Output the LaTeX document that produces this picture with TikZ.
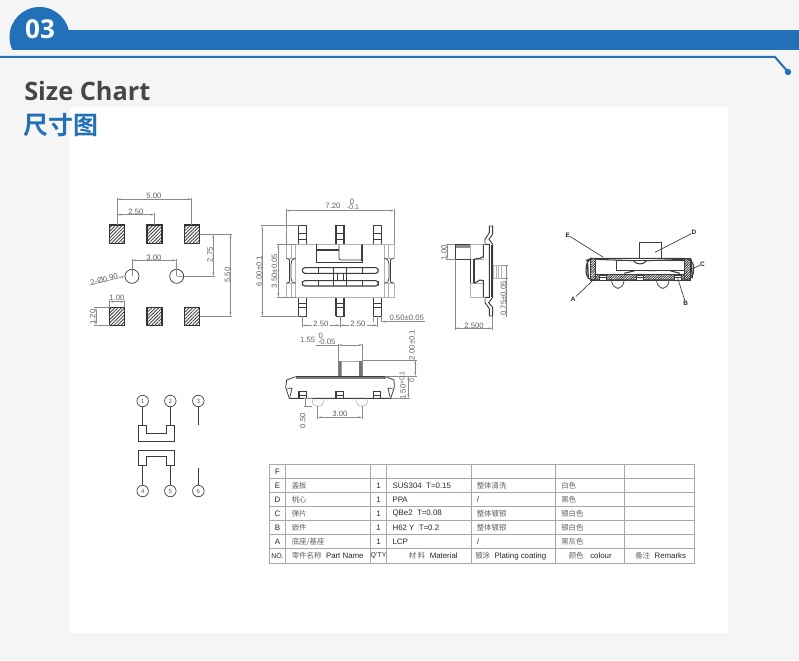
\documentclass[tikz,border=0pt]{standalone}
\usepackage{fontspec}
\setmainfont{Liberation Sans}
\newfontfamily\cjk{Noto Sans CJK SC}
\newfontfamily\cjkb{Noto Sans CJK SC Bold}
\newfontfamily\headf{Open Sans}[BoldFont={Open Sans Bold}]
\usetikzlibrary{arrows.meta,patterns.meta,calc}
\definecolor{brand}{HTML}{2170B8}
\definecolor{pagebg}{HTML}{F5F5F5}
\definecolor{dimc}{HTML}{8A8A8A}
\definecolor{inkc}{HTML}{3C3C3C}
\definecolor{gridc}{HTML}{A8A8A8}
\tikzset{
  dimline/.style={draw=dimc,line width=0.4pt,{Stealth[length=3pt,width=1.4pt]}-{Stealth[length=3pt,width=1.4pt]}},
  extline/.style={draw=dimc,line width=0.4pt},
  ink/.style={draw=inkc,line width=0.55pt},
  heavy/.style={draw=inkc,line width=1pt},
  soft/.style={draw=gray!60,line width=0.45pt},
  dimtext/.style={text=black!62,font=\fontsize{5.8}{6.5}\selectfont,inner sep=0pt},
  hatch/.style={draw=black!80,line width=0.9pt,pattern={Lines[angle=45,distance=1.8pt,line width=0.65pt]},pattern color=black!75},
  hatchb/.style={draw=inkc,line width=0.5pt,pattern={Lines[angle=45,distance=1.3pt,line width=0.6pt]},pattern color=black!80},
  grid/.style={draw=gridc,line width=0.55pt},
  cellw/.style={anchor=west,inner sep=0pt,text=black!85,font=\fontsize{5.9}{6.5}\selectfont},
  cellc/.style={anchor=center,inner sep=0pt,text=black!85,font=\fontsize{5.9}{6.5}\selectfont},
  cellz/.style={anchor=west,inner sep=0pt,text=black!62,font=\cjk\fontsize{5.6}{6.5}\selectfont},
  pinnum/.style={circle,draw=inkc,line width=0.5pt,minimum size=11.5*0.75pt,inner sep=0pt,fill=white,text=black!65,font=\fontsize{4.5}{5}\selectfont},
  leadtext/.style={text=black!85,font=\bfseries\fontsize{4.8}{5}\selectfont,inner sep=0pt},
  sideleft/.style={},
  sideright/.style={shift={(680,0)},xscale=-1},
}
\begin{document}
\begin{tikzpicture}[x=0.75pt,y=-0.75pt]
\useasboundingbox (0,0) rectangle (799,660);
\fill[pagebg] (0,0) rectangle (799,660);
\fill[white] (70,107) rectangle (728,633);
% header
\fill[brand] (60,30) rectangle (799,50);
\begin{scope}
\clip (0,0) rectangle (100,50);
\fill[brand] (39.5,37) circle (30);
\end{scope}
\draw[brand,line width=1.5pt] (0,57) -- (775,57) -- (788,72);
\fill[brand] (788,72) circle (3.2);
\node[text=white,font=\headf\bfseries\fontsize{19.5}{20}\selectfont,inner sep=0pt] (num) at (40,29.5) {03};
\node[anchor=base west,text=black!72,font=\headf\bfseries\fontsize{19}{22}\selectfont,inner sep=0pt] (title) at (24,100) {Size Chart};
\node[anchor=west,text=brand,font=\cjkb\fontsize{18.7}{20}\selectfont,inner sep=0pt] (titlecn) at (23.5,125) {尺寸图};

% ---------- footprint
\foreach \x in {109.5,147,184.5}{
  \path[hatch] (\x,225) rectangle ++(15,18.3);
  \path[hatch] (\x,307.3) rectangle ++(15,18);
}
\draw[ink] (132,276.3) circle (7) (176.7,276.3) circle (7);
\draw[soft] (132,276.3) -- (132,269) (176.7,276.3) -- (176.7,269) (176.7,276.3) -- (183,276.3);
\draw[extline] (117,225) -- (117,198) (191.7,225) -- (191.7,198) (154.5,225) -- (154.5,213);
\draw[dimline] (117,199.3) -- (191.7,199.3);
\draw[dimline] (117,214.7) -- (154.5,214.7);
\node[dimtext] (d500) at (154,196) {5.00};
\node[dimtext] (d250) at (136,211.5) {2.50};
\draw[extline] (132,276) -- (132,259) (176.7,276) -- (176.7,259);
\draw[dimline] (132,260.3) -- (176.7,260.3);
\node[dimtext] (d300) at (154,257.5) {3.00};
\draw[extline] (199.7,234) -- (232,234) (183.7,276.3) -- (215,276.3) (199.7,316) -- (232,316);
\draw[dimline] (213.3,234) -- (213.3,276.3);
\draw[dimline] (230.5,234) -- (230.5,316);
\node[dimtext,rotate=90] (d275) at (210,254.5) {2.75};
\node[dimtext,rotate=90] (d550) at (227.5,275) {5.50};
\node[dimtext,rotate=14] (dphi) at (104,279.5) {2-Ø0.90};
\coordinate (phia) at (90,285);
\coordinate (phib) at (125,276.3);
\draw[extline,-{Stealth[length=3pt,width=1.4pt]}] (phia) -- (phib);
\draw[extline] (109.5,307.3) -- (109.5,300) (124.5,307.3) -- (124.5,300);
\draw[dimline] (109.5,301.7) -- (124.5,301.7);
\node[dimtext] (d100) at (117,298) {1.00};
\draw[extline] (94,307.3) -- (109.5,307.3) (94,325.3) -- (109.5,325.3);
\draw[dimline] (96,307.3) -- (96,325.3);
\node[dimtext,rotate=90] (d120) at (92.7,317) {1.20};

% ---------- top view
\draw[extline] (286,244) -- (286,209) (394,244) -- (394,209);
\draw[dimline] (286,210.7) -- (394,210.7);
\node[dimtext] (d720) at (333,205.5) {7.20};
\node[dimtext] (d720a) at (352,201.5) {0};
\node[dimtext,font=\fontsize{5.2}{6}\selectfont] (d720b) at (353,207.5) {-0.1};
\foreach \x in {298.7,336,373.3}{
  \draw[ink,fill=white] (\x,225) rectangle ++(8,19.3);
  \draw[ink,fill=white] (\x,297.3) rectangle ++(8,18.7);
  \draw[ink] (\x,233.5) -- ++(8,0) (\x,239) -- ++(8,0) (\x,303) -- ++(8,0) (\x,307) -- ++(8,0);
  \draw[heavy] (\x,225) -- ++(0,19.3) (\x+8,225) -- ++(0,19.3) (\x,297.3) -- ++(0,18.7) (\x+8,297.3) -- ++(0,18.7);
}
\draw[soft] (295.7,244.3) -- (384.3,244.3) (295.7,297.3) -- (384.3,297.3);
\foreach \tr in {sideleft,sideright}{
\begin{scope}[\tr]
  \draw[soft] (286,244.3) rectangle (295.7,258.5);
  \draw[soft] (286,283) rectangle (295.7,297.3);
  \draw[soft] (291.7,244.3) -- (291.7,258.5) (291.7,283) -- (291.7,297.3);
  \draw[soft] (295.7,244.3) -- (295.7,297.3);
  \draw[ink] (295.7,258.5) .. controls (292,259) and (291,261) .. (291,264) -- (291,278) .. controls (291,281) and (292,283) .. (295.7,283);
  \draw[heavy] (289.7,259.5) -- (289.7,282);
  \draw[ink] (289.7,259.5) -- (286.5,258.5) (289.7,282) -- (286.5,283);
\end{scope}
}
\draw[ink,line width=0.8pt] (316.7,244.3) -- (316.7,262.3) -- (362.7,262.3) -- (362.7,244.3);
\draw[heavy] (361.8,245) -- (361.8,261);
\draw[ink,rounded corners=1.5pt] (339,244.5) -- (339,260) -- (361,260);
\draw[ink,line width=0.8pt] (317,250) -- (339,250);
\draw[ink,line width=0.8pt,rounded corners=2pt] (302.3,267.7) rectangle (378.3,273.3);
\draw[ink,line width=0.8pt,rounded corners=2pt] (302.3,280.7) rectangle (378.3,286);
\foreach \x in {318.3,333.3,346.7,362.3}{
  \draw[heavy] (\x,267.7) -- (\x,273.3) (\x,280.7) -- (\x,286);
}
\draw[ink] (333.3,273.3) -- (333.3,280.7) (346.7,273.3) -- (346.7,280.7);
\draw[ink] (337.5,273.3) rectangle (343.5,280.7);
\draw[extline] (296,244.3) -- (277,244.3) (296,297.3) -- (277,297.3);
\draw[dimline] (278.3,244.3) -- (278.3,297.3);
\node[dimtext,rotate=90] (d350) at (274.5,271) {3.50±0.05};
\draw[extline] (298.7,225) -- (261,225) (298.7,316) -- (261,316);
\draw[dimline] (262.3,226) -- (262.3,316);
\node[dimtext,rotate=90] (d600) at (259.3,271) {6.00±0.1};
\draw[extline] (302.5,316) -- (302.5,327) (340,316) -- (340,327) (377.5,316) -- (377.5,327) (373.3,316) -- (373.3,322) (381.3,316) -- (381.3,322);
\draw[dimline] (302.5,325.3) -- (340,325.3);
\draw[dimline] (340,325.3) -- (377.5,325.3);
\node[fill=white,dimtext,inner xsep=1pt] (d250a) at (321,323.5) {2.50};
\node[fill=white,dimtext,inner xsep=1pt] (d250b) at (358,323.5) {2.50};
\draw[extline,-{Stealth[length=3pt,width=1.4pt]}] (425,321.7) -- (381.3,321.7);
\node[dimtext] (d050) at (406.7,318) {0.50±0.05};

% ---------- side view
\begin{scope}[shift={(430,210)},x=0.25pt,y=-0.25pt]
  \draw[ink,line width=0.7pt] (178,48) -- (188,48) -- (188,72) -- (177,88) -- (188,103) -- (188,262) -- (176,278) -- (188,292) -- (188,318) -- (178,318) -- (178,296) -- (165,278) -- (165,262) -- (178,262) -- (178,103) -- (165,103) -- (165,88) -- (178,68) -- cycle;
  \draw[heavy] (186,105) -- (186,260);
  \draw[soft,fill=white] (75,103) rectangle (120,147);
  \draw[soft,fill=white] (120,103) rectangle (160,147);
  \fill[black!45] (75,103) rectangle (120,114);
  \draw[ink] (75,103) -- (75,147) -- (120,147) (75,103) -- (120,103);
  \draw[soft,fill=white] (120,220) rectangle (160,262);
  \draw[ink] (120,147) -- (120,220) (133,147) -- (133,220);
  \draw[heavy] (122,147) -- (122,220) (131,147) -- (131,220);
  \draw[ink,line width=0.8pt] (160,103) -- (160,140) -- (150,145) -- (133,147);
  \draw[ink,line width=0.8pt] (160,262) -- (160,212) -- (150,210) -- (133,220);
  \draw[soft] (190,165) rectangle (215,205) (200,165) -- (200,205) (206,165) -- (206,205);
\end{scope}
\draw[extline] (455,244.3) -- (446,244.3) (455,259) -- (446,259);
\draw[dimline] (447.3,244.3) -- (447.3,259);
\node[dimtext,rotate=90] (d100b) at (444,252.7) {1.00};
\draw[extline] (455,259) -- (455,330) (492.7,316) -- (492.7,330);
\draw[dimline] (455,328.3) -- (492.7,328.3);
\node[dimtext] (d2500) at (474,325.5) {2.500};
\draw[extline] (501.7,265) -- (508,265) (501.7,278.3) -- (508,278.3) (506.7,265) -- (506.7,317);
\node[dimtext,rotate=90] (d075) at (503.5,298.5) {0.75±0.05};

% ---------- section
\begin{scope}[shift={(555,220)},x=0.25pt,y=-0.25pt]
  \draw[ink,line width=0.7pt] (252,115) -- (252,68) -- (320,68) -- (320,115);
  \draw[ink,line width=0.8pt,rounded corners=4pt] (97,180) -- (92,150) -- (97,120) -- (108,115) -- (395,115) -- (412,120) -- (418,150) -- (408,180) -- cycle;
  \path[hatchb] (105,115) rectangle (122,180);
  \path[hatchb] (388,115) rectangle (405,180);
  \path[hatchb] (122,163) rectangle (388,180);
  \draw[ink,fill=white] (132,165) rectangle (155,180) (245,165) rectangle (265,180) (358,165) rectangle (380,180);
  \draw[ink] (132,172) -- (155,172) (245,172) -- (265,172) (358,172) -- (380,172);
  \draw[ink,line width=0.6pt] (185,120) -- (388,120) (185,120) -- (185,152) -- (388,152);
  \draw[ink,line width=0.8pt] (122,118) -- (235,122) .. controls (245,135) and (265,135) .. (275,122) -- (388,118);
  \draw[ink,line width=0.8pt] (208,160) -- (240,152) (280,152) -- (305,152) (345,152) -- (375,160);
  \draw[ink,rounded corners=5pt] (170,180) -- (172,205) -- (205,205) -- (207,180);
  \draw[ink,rounded corners=5pt] (305,180) -- (307,205) -- (340,205) -- (342,180);
  \draw[heavy] (97,120) -- (100,175) (408,120) -- (412,175);
\end{scope}
\node[leadtext] (lbE) at (567.7,235) {E};
\node[leadtext] (lbD) at (694,232.3) {D};
\node[leadtext] (lbC) at (702.5,264) {C};
\node[leadtext] (lbA) at (573.3,299) {A};
\node[leadtext] (lbB) at (685.7,303.3) {B};
\coordinate (tipE) at (603.3,257.3);
\coordinate (tipD) at (655,252.3);
\coordinate (tipC) at (691.7,269);
\coordinate (tipA) at (596.7,276.7);
\coordinate (tipB) at (677.7,278.3);
\draw[ink,line width=0.5pt] (lbE) -- (tipE) (lbD) -- (tipD) (lbC) -- (tipC) (lbA) -- (tipA) (lbB) -- (tipB);

% ---------- front view
\begin{scope}[shift={(270,330)},x=0.25pt,y=-0.25pt]
  \draw[soft,fill=white] (205,93) rectangle (278,140);
  \fill[black!55] (205,93) rectangle (215,140) (267,93) rectangle (278,140);
  \fill[black!50] (77,140) rectangle (347,148);
  \draw[ink,line width=0.7pt] (77,140) -- (347,140);
  \draw[ink,line width=0.6pt] (77,140) -- (50,150) -- (47,172) -- (58,205) -- (362,205) -- (373,172) -- (372,150) -- (347,140);
  \draw[ink,line width=0.9pt] (58,205) -- (362,205);
  \draw[ink] (52,175) -- (66,175) -- (60,200) (368,175) -- (354,175) -- (360,200);
  \foreach \x in {87,198,310}{
    \draw[ink,line width=0.9pt] (\x,204) -- (\x,185) -- (\x+22,185) -- (\x+22,204);
    \draw[ink] (\x,195) -- (\x+22,195);
  }
  \draw[soft,rounded corners=3pt] (127,205) -- (127,228) -- (160,228) -- (160,205);
  \draw[soft,rounded corners=3pt] (260,205) -- (260,228) -- (292,228) -- (292,205);
\end{scope}
\draw[extline] (338.3,361) -- (338.3,344) (362.7,361) -- (362.7,344);
\draw[dimline] (338.3,345) -- (362.7,345);
\draw[extline] (316,345) -- (338.3,345);
\node[dimtext] (d155) at (307.7,340) {1.55};
\node[dimtext] (d155a) at (320.7,335.5) {0};
\node[dimtext] (d155b) at (326.7,342) {-0.05};
\draw[extline] (362.7,360) -- (417,360) (385,376) -- (417,376);
\draw[dimline] (415.3,360) -- (415.3,376);
\node[dimtext,rotate=90] (d200) at (412,345) {2.00±0.1};
\draw[extline] (390.7,398.3) -- (410,398.3);
\draw[dimline] (408.3,376) -- (408.3,398.3);
\node[dimtext,rotate=90] (d150) at (403,392) {1.50};
\node[dimtext,rotate=90,font=\fontsize{5.2}{6}\selectfont] (d150a) at (402,378) {+0.1};
\node[dimtext,rotate=90,font=\fontsize{5.2}{6}\selectfont] (d150b) at (412,381) {0};
\draw[extline] (312,398.3) -- (304,398.3) (312,406) -- (304,406) (305,398.3) -- (305,406);
\node[dimtext,rotate=90] (d050b) at (302.7,420.7) {0.50};
\draw[extline] (317.7,406) -- (317.7,419) (362,406) -- (362,419);
\draw[dimline] (317.7,417.3) -- (362,417.3);
\node[dimtext] (d300b) at (340,414.3) {3.00};

% ---------- schematic
\begin{scope}[shift={(120,385)},x=0.25pt,y=-0.25pt]
  \node[pinnum] (p1) at (68,48) {1};
  \node[pinnum] (p2) at (151,48) {2};
  \node[pinnum] (p3) at (235,48) {3};
  \node[pinnum] (p4) at (68,318) {4};
  \node[pinnum] (p5) at (151,318) {5};
  \node[pinnum] (p6) at (235,318) {6};
  \coordinate (u1) at (68,122);
  \coordinate (u2) at (151,122);
  \coordinate (u3) at (235,120);
  \coordinate (l1) at (68,242);
  \coordinate (l2) at (151,242);
  \coordinate (l3) at (235,248);
  \draw[ink,line width=0.6pt] (p1) -- (u1) (p2) -- (u2) (p3) -- (u3) (p4) -- (l1) (p5) -- (l2) (p6) -- (l3);
  \draw[ink,line width=0.7pt] (56,122) -- (80,122) -- (80,145) -- (140,145) -- (140,122) -- (163,122) -- (163,168) -- (56,168) -- cycle;
  \draw[ink,line width=0.7pt] (56,195) -- (163,195) -- (163,240) -- (140,240) -- (140,215) -- (80,215) -- (80,240) -- (56,240) -- cycle;
\end{scope}

% ---------- table
\foreach \y in {464.3,478.3,492.3,506.7,520.7,534.7,548.3,563}{
  \draw[grid] (269.3,\y) -- (694.5,\y);
}
\foreach \x in {269.3,285.7,370,386.7,471.7,555,624.7,694}{
  \draw[grid] (\x,464.3) -- (\x,563);
}
\node[cellc] (cF) at (277.5,471.5) {F};
\node[cellc] (cE) at (277.5,485.5) {E};
\node[cellc] (cD) at (277.5,499.7) {D};
\node[cellc] (cC) at (277.5,513.9) {C};
\node[cellc] (cB) at (277.5,527.9) {B};
\node[cellc] (cA) at (277.5,541.7) {A};
\node[cellz] (nE) at (291.5,485.5) {盖板};
\node[cellz] (nD) at (291.5,499.7) {桃心};
\node[cellz] (nC) at (291.5,513.9) {弹片};
\node[cellz] (nB) at (291.5,527.9) {嵌件};
\node[cellz] (nA) at (291.5,541.7) {底座/基座};
\node[cellc] (qE) at (378.5,485.5) {1};
\node[cellc] (qD) at (378.5,499.7) {1};
\node[cellc] (qC) at (378.5,513.9) {1};
\node[cellc] (qB) at (378.5,527.9) {1};
\node[cellc] (qA) at (378.5,541.7) {1};
\node[cellw] (mE) at (392.3,485.5) {SUS304\ \ T=0.15};
\node[cellw] (mD) at (392.3,499.7) {PPA};
\node[cellw] (mC) at (392.3,513.9) {QBe2\ \ T=0.08};
\node[cellw] (mB) at (392.3,527.9) {H62 Y\ \ T=0.2};
\node[cellw] (mA) at (392.3,541.7) {LCP};
\node[cellz] (pE) at (476.5,485.5) {整体清洗};
\node[cellw] (pD) at (476.5,499.7) {/};
\node[cellz] (pC) at (476.5,513.9) {整体镀银};
\node[cellz] (pB) at (476.5,527.9) {整体镀银};
\node[cellw] (pA) at (476.5,541.7) {/};
\node[cellz] (kE) at (561,485.5) {白色};
\node[cellz] (kD) at (561,499.7) {黑色};
\node[cellz] (kC) at (561,513.9) {银白色};
\node[cellz] (kB) at (561,527.9) {银白色};
\node[cellz] (kA) at (561,541.7) {黑灰色};
\node[cellc,font=\fontsize{5.2}{6}\selectfont] (hNo) at (277.5,555.7) {NO.};
\node[cellw] (hPart) at (291.5,555.7) {{\cjk\color{black!62}\fontsize{5.6}{6.5}\selectfont 零件名称}\ \ Part Name};
\node[cellc,font=\fontsize{5.2}{6}\selectfont] (hQ) at (378.5,555.7) {Q'TY};
\node[cellw] (hMat) at (408.5,555.7) {{\cjk\color{black!62}\fontsize{5.6}{6.5}\selectfont 材 料}\ \ Material};
\node[cellw] (hPl) at (475,555.7) {{\cjk\color{black!62}\fontsize{5.6}{6.5}\selectfont 镀涂}\ \ Plating coating};
\node[cellw] (hCo) at (568.5,555.7) {{\cjk\color{black!62}\fontsize{5.6}{6.5}\selectfont 颜色}\ \ \ colour};
\node[cellw] (hRe) at (635,555.7) {{\cjk\color{black!62}\fontsize{5.6}{6.5}\selectfont 备注}\ \ Remarks};
\end{tikzpicture}
\end{document}
